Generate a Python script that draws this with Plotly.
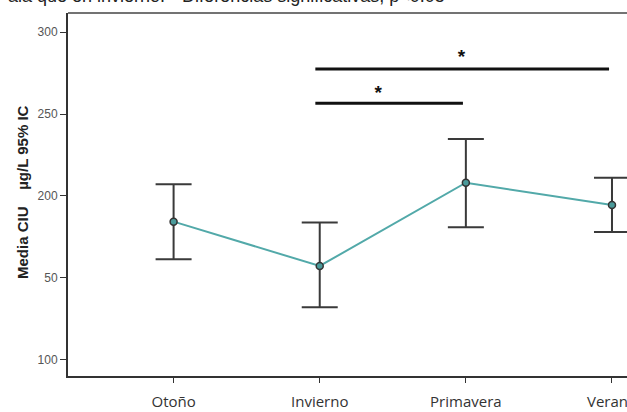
import plotly.graph_objects as go

# ---- data ----
categories = ["Otoño", "Invierno", "Primavera", "Verano"]
means = [184.2, 157.1, 208.0, 194.4]
upper = [207.0, 183.6, 234.7, 211.1]
lower = [161.2, 131.8, 180.7, 177.9]

y_tickvals = [100, 150, 200, 250, 300]
y_ticktext = ["100", "50", "200", "250", "300"]

# significance comparisons: (from index, to index, bar level, star x, star level)
sig_from = [1, 1]
sig_to = [3, 2]
sig_level = [277.6, 256.6]
sig_star_x = [1.97, 1.40]
sig_star_y = [284.0, 262.0]

top_note = "ala que en invierno. * Diferencias significativas, p<0.05"
y_title = "Media CIU\u00a0\u00a0\u00a0 µg/L 95% IC"

# ---- figure ----
W, H = 627, 412
ml, mr, mt, mb = 68, 0, 13, 36
pw, ph = W - ml - mr, H - mt - mb

xs = list(range(len(categories)))
err_plus = [u - m for u, m in zip(upper, means)]
err_minus = [m - l for m, l in zip(means, lower)]

fig = go.Figure()
fig.add_trace(go.Scatter(
    x=xs, y=means, mode="lines+markers",
    line=dict(color="#52a9a9", width=2),
    marker=dict(size=7, color="#4a9a9a", line=dict(color="#333333", width=1.5)),
    error_y=dict(type="data", symmetric=False, array=err_plus, arrayminus=err_minus,
                 color="#3a3a3a", thickness=2, width=18),
    showlegend=False, hoverinfo="skip",
))

for a, b, lev in zip(sig_from, sig_to, sig_level):
    fig.add_trace(go.Scatter(
        x=[a - 0.03, b - 0.02], y=[lev, lev], mode="lines",
        line=dict(color="#111111", width=3), showlegend=False, hoverinfo="skip",
    ))
fig.add_trace(go.Scatter(
    x=sig_star_x, y=sig_star_y, mode="text", text=["<b>*</b>"] * len(sig_star_x),
    textfont=dict(size=19, color="#111111", family="Liberation Sans"),
    showlegend=False, hoverinfo="skip",
))

fig.update_layout(
    width=W, height=H,
    margin=dict(l=ml, r=mr, t=mt, b=mb, autoexpand=False),
    paper_bgcolor="white", plot_bgcolor="white",
    xaxis=dict(
        range=[(68.5 - 174) / 146, (627 - 174) / 146],
        tickvals=xs, ticktext=categories,
        ticks="outside", ticklen=5, tickcolor="#333", tickwidth=1,
        showline=True, linecolor="#333333", linewidth=2,
        showgrid=False, zeroline=False, automargin=False,
        ticklabeloverflow="allow",
        ticklabelstandoff=6,
        tickfont=dict(family="Open Sans", size=15, color="#333333"),
    ),
    yaxis=dict(
        range=[89.8, 311.8],
        tickvals=y_tickvals, ticktext=y_ticktext,
        ticks="outside", ticklen=6, tickcolor="#333", tickwidth=1,
        showline=True, linecolor="#333333", linewidth=2,
        showgrid=False, zeroline=False, automargin=False,
        tickfont=dict(family="Liberation Sans", size=12, color="#555555"),
    ),
    shapes=[dict(type="line", xref="paper", yref="paper", x0=0, x1=1, y0=1, y1=1,
                 line=dict(color="#444444", width=1.5))],
    annotations=[
        dict(text="<b>" + y_title + "</b>", textangle=-90, xref="paper", yref="paper",
             x=(22 - ml) / pw, y=(H - mb - 192) / ph, xanchor="center", yanchor="middle",
             showarrow=False, font=dict(family="Liberation Sans", size=15, color="#222222"),
             ),
        dict(text=top_note, xref="paper", yref="paper",
             x=(6 - ml) / pw, y=1 + (mt - 8) / ph, xanchor="left", yanchor="bottom",
             showarrow=False, font=dict(family="Liberation Sans", size=18, color="#222222")),
    ],
)

fig.write_html("out.html", config={"displayModeBar": False},
               post_script="document.body.style.margin='0';document.body.style.overflow='hidden';")
